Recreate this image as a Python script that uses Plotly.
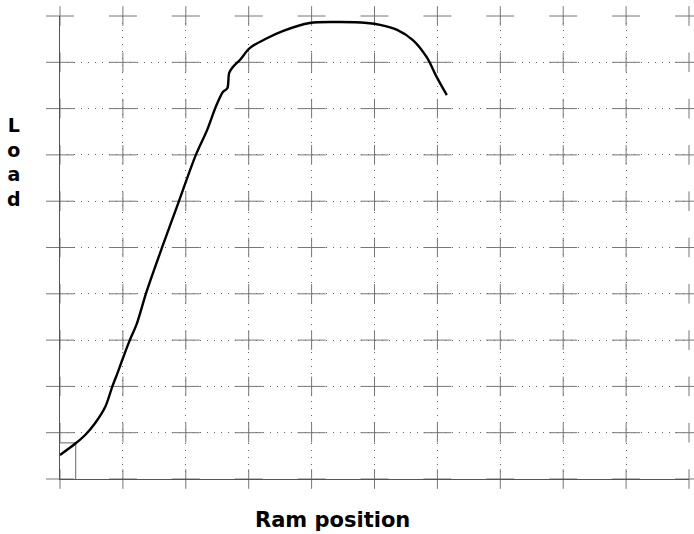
import plotly.graph_objects as go

# Load vs ram position curve, in grid units
ram_position = [0.00, 0.24, 0.40, 0.56, 0.72, 0.83, 0.92, 1.03, 1.11, 1.22, 1.37, 1.62,
                1.88, 2.16, 2.34, 2.48, 2.59, 2.66, 2.69, 2.75, 2.86, 3.02, 3.29, 3.55,
                3.97, 4.45, 4.88, 5.09, 5.36, 5.61, 5.83, 5.99, 6.15]
load = [0.52, 0.76, 0.95, 1.21, 1.56, 1.99, 2.31, 2.72, 3.00, 3.35, 4.02, 4.99,
        5.96, 7.00, 7.54, 8.05, 8.36, 8.44, 8.77, 8.90, 9.05, 9.31, 9.52, 9.68,
        9.85, 9.87, 9.85, 9.81, 9.70, 9.48, 9.11, 8.68, 8.29]

# small marker box near origin
box_x = [0.0, 0.25, 0.25]
box_y = [0.78, 0.78, 0.0]

grid_x = list(range(0, 11))
grid_y = list(range(0, 11))

fig = go.Figure()

cx = [gx for gx in grid_x for gy in grid_y]
cy = [gy for gx in grid_x for gy in grid_y]
fig.add_trace(go.Scatter(x=cx, y=cy, mode="markers", cliponaxis=False, hoverinfo="skip",
                         marker=dict(symbol="line-ew", size=20, line=dict(color="#777", width=1))))
fig.add_trace(go.Scatter(x=cx, y=cy, mode="markers", cliponaxis=False, hoverinfo="skip",
                         marker=dict(symbol="line-ns", size=14, line=dict(color="#777", width=1))))

fig.add_trace(go.Scatter(x=box_x, y=box_y, mode="lines", line=dict(color="#666", width=1),
                         hoverinfo="skip"))
fig.add_trace(go.Scatter(x=ram_position, y=load, mode="lines", line=dict(color="black", width=2.4),
                         line_shape="spline", line_smoothing=0.9))

axis_common = dict(range=[0, 10], showticklabels=False, ticks="", zeroline=False,
                   showgrid=True, gridcolor="#666", gridwidth=1, griddash="1px,6px",
                   tickvals=grid_x, showline=True, linecolor="#555", linewidth=1)
fig.update_xaxes(**axis_common)
fig.update_yaxes(**axis_common)

fig.update_layout(
    width=694, height=534,
    margin=dict(l=60, r=5, t=16, b=55),
    paper_bgcolor="white", plot_bgcolor="white",
    showlegend=False,
    font=dict(family="DejaVu Sans", color="black"),
    annotations=[
        dict(text="<b>Ram position</b>", xref="paper", yref="paper", x=(332 - 60) / 629,
             y=-(506 - 479) / 463, xanchor="center", yanchor="top", showarrow=False,
             font=dict(size=21, color="black")),
        dict(text="<b>L<br>o<br>a<br>d</b>", xref="paper", yref="paper", x=(14 - 60) / 629,
             y=(479 - 112) / 463, xanchor="center", yanchor="top", showarrow=False,
             font=dict(size=19, color="black")),
    ],
)

fig.write_html("out.html", config={"displayModeBar": False},
               post_script="document.body.style.margin='0';document.body.style.padding='0';")
